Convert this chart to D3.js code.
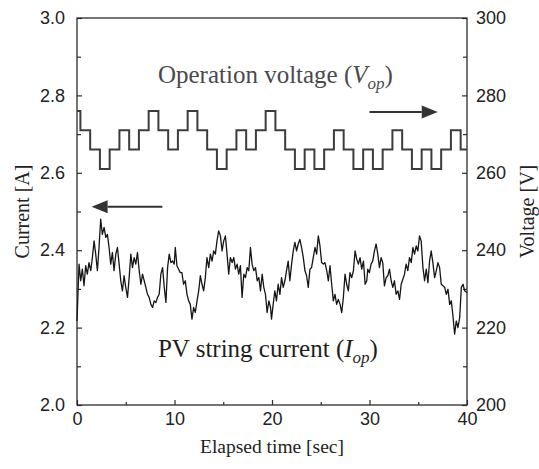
<!DOCTYPE html>
<html>
<head>
<meta charset="utf-8">
<script src="https://cdn.jsdelivr.net/npm/d3@7"></script>
<style>
  html, body { margin: 0; padding: 0; background: #fff; }
  svg { display: block; }
</style>
</head>
<body>
<svg id="chart" width="539" height="469"></svg>
<script>
// Axis tick values and labels
const timeTicks = [0, 10, 20, 30, 40];
const timeMinorTicks = [5, 15, 25, 35];
const currentTicks = [2.0, 2.2, 2.4, 2.6, 2.8, 3.0];
const currentMinorTicks = [2.1, 2.3, 2.5, 2.7, 2.9];
const voltageTicks = [200, 220, 240, 260, 280, 300];
const voltageMinorTicks = [210, 230, 250, 270, 290];

// Operation voltage: set-point changes every second (step times in s, levels in V)
const voltageStepTimes = [0, 0.35, 1.35, 2.35, 3.35, 4.35, 5.35, 6.35, 7.35, 8.35, 9.35,
  10.35, 11.35, 12.35, 13.35, 14.35, 15.35, 16.35, 17.35, 18.35, 19.35,
  20.35, 21.35, 22.35, 23.35, 24.35, 25.35, 26.35, 27.35, 28.35, 29.35,
  30.35, 31.35, 32.35, 33.35, 34.35, 35.35, 36.35, 37.35, 38.35, 39.35, 40];
const voltageLevels = [276, 271, 266, 261, 266, 271, 266, 271, 276, 271, 266,
  271, 276, 271, 266, 261, 266, 271, 266, 271, 276,
  271, 266, 261, 266, 261, 266, 271, 266, 261, 266,
  261, 266, 271, 266, 261, 266, 261, 266, 271, 266, 266];

// PV string current samples (s, A)
const currentTimes = [0.00, 0.21, 0.38, 0.55, 0.72, 0.89, 1.06, 1.23, 1.41, 1.58, 1.75, 1.92,
  2.09, 2.26, 2.43, 2.60, 2.78, 2.95, 3.12, 3.29, 3.46, 3.63, 3.80, 3.98,
  4.15, 4.32, 4.49, 4.66, 4.83, 5.00, 5.18, 5.35, 5.52, 5.69, 5.86, 6.03,
  6.20, 6.38, 6.55, 6.72, 6.89, 7.06, 7.23, 7.40, 7.58, 7.75, 7.92, 8.09,
  8.26, 8.43, 8.60, 8.78, 8.95, 9.12, 9.29, 9.46, 9.63, 9.80, 9.97,
  10.08, 10.25, 10.42, 10.59, 10.76, 10.93, 11.11, 11.28, 11.45, 11.62, 11.79, 11.96,
  12.13, 12.31, 12.48, 12.65, 12.82, 12.99, 13.16, 13.33, 13.51, 13.68, 13.85, 14.02,
  14.19, 14.36, 14.53, 14.71, 14.88, 15.05, 15.22, 15.39, 15.56, 15.73, 15.91, 16.08,
  16.25, 16.42, 16.59, 16.76, 16.93, 17.11, 17.28, 17.45, 17.62, 17.79, 17.96, 18.13,
  18.31, 18.48, 18.65, 18.82, 18.99, 19.16, 19.33, 19.50, 19.68, 19.85,
  19.95, 20.12, 20.29, 20.46, 20.63, 20.81, 20.98, 21.15, 21.32, 21.49, 21.66, 21.83,
  22.01, 22.18, 22.35, 22.52, 22.69, 22.86, 23.03, 23.21, 23.38, 23.55, 23.72, 23.89,
  24.06, 24.23, 24.41, 24.58, 24.75, 24.92, 25.09, 25.26, 25.43, 25.61, 25.78, 25.95,
  26.12, 26.29, 26.46, 26.63, 26.80, 26.98, 27.15, 27.32, 27.49, 27.66, 27.83, 28.00,
  28.18, 28.35, 28.52, 28.69, 28.86, 29.03, 29.20, 29.38, 29.55, 29.72,
  29.82, 29.99, 30.16, 30.33, 30.51, 30.68, 30.85, 31.02, 31.19, 31.36, 31.53, 31.71,
  31.88, 32.05, 32.22, 32.39, 32.56, 32.73, 32.91, 33.08, 33.25, 33.42, 33.59, 33.76,
  33.93, 34.10, 34.28, 34.45, 34.62, 34.79, 34.96, 35.13, 35.30, 35.48, 35.65, 35.82,
  35.99, 36.16, 36.33, 36.50, 36.68, 36.85, 37.02, 37.19, 37.36, 37.53, 37.71, 37.88,
  38.05, 38.22, 38.39, 38.56, 38.73, 38.90, 39.07, 39.25, 39.42, 39.59, 39.76, 40.00];
const currentValues = [2.217, 2.364, 2.321, 2.351, 2.308, 2.360, 2.338, 2.368, 2.347, 2.381, 2.424, 2.390,
  2.347, 2.407, 2.480, 2.441, 2.459, 2.433, 2.441, 2.407, 2.364, 2.394, 2.347, 2.390,
  2.407, 2.364, 2.321, 2.295, 2.334, 2.304, 2.278, 2.329, 2.390, 2.355, 2.381, 2.364,
  2.394, 2.347, 2.312, 2.338, 2.321, 2.304, 2.286, 2.278, 2.260, 2.252, 2.269, 2.265,
  2.278, 2.286, 2.338, 2.355, 2.304, 2.265, 2.355, 2.390, 2.368, 2.372, 2.364,
  2.407, 2.360, 2.351, 2.342, 2.342, 2.312, 2.321, 2.286, 2.269, 2.260, 2.222, 2.252,
  2.239, 2.269, 2.295, 2.334, 2.312, 2.295, 2.329, 2.381, 2.355, 2.390, 2.372, 2.398,
  2.390, 2.424, 2.450, 2.437, 2.398, 2.424, 2.437, 2.390, 2.338, 2.381, 2.368, 2.381,
  2.351, 2.364, 2.338, 2.360, 2.278, 2.338, 2.329, 2.355, 2.347, 2.407, 2.364, 2.347,
  2.355, 2.321, 2.329, 2.295, 2.338, 2.304, 2.286, 2.239, 2.269, 2.252,
  2.222, 2.260, 2.295, 2.269, 2.312, 2.286, 2.329, 2.304, 2.321, 2.347, 2.372, 2.321,
  2.364, 2.398, 2.420, 2.398, 2.416, 2.428, 2.407, 2.381, 2.347, 2.334, 2.304, 2.351,
  2.355, 2.381, 2.407, 2.390, 2.437, 2.411, 2.368, 2.364, 2.368, 2.347, 2.321, 2.360,
  2.312, 2.269, 2.286, 2.260, 2.273, 2.260, 2.239, 2.278, 2.338, 2.312, 2.295, 2.342,
  2.329, 2.347, 2.398, 2.377, 2.364, 2.381, 2.351, 2.372, 2.312, 2.321,
  2.351, 2.342, 2.364, 2.372, 2.398, 2.416, 2.390, 2.355, 2.381, 2.368, 2.308, 2.329,
  2.334, 2.351, 2.321, 2.304, 2.321, 2.286, 2.295, 2.273, 2.312, 2.325, 2.338, 2.364,
  2.347, 2.381, 2.368, 2.407, 2.390, 2.411, 2.398, 2.437, 2.424, 2.355, 2.321, 2.351,
  2.316, 2.372, 2.398, 2.368, 2.329, 2.347, 2.368, 2.355, 2.312, 2.308, 2.304, 2.286,
  2.299, 2.260, 2.269, 2.230, 2.183, 2.217, 2.200, 2.226, 2.304, 2.312, 2.295, 2.290];

const W = 539, H = 469;
const margin = { top: 18, right: 72, bottom: 64, left: 77 };
const svg = d3.select("#chart");

const x = d3.scaleLinear().domain([0, 40]).range([margin.left, W - margin.right]);
const yI = d3.scaleLinear().domain([2, 3]).range([H - margin.bottom, margin.top]);
const yV = d3.scaleLinear().domain([200, 300]).range([H - margin.bottom, margin.top]);

const axisColor = "#2b2b2b";
const sansFont = "'Liberation Sans', Arial, sans-serif";
const serifFont = "'Liberation Serif', 'Times New Roman', serif";

// Frame
svg.append("rect")
  .attr("x", margin.left).attr("y", margin.top)
  .attr("width", W - margin.left - margin.right)
  .attr("height", H - margin.top - margin.bottom)
  .attr("fill", "none").attr("stroke", axisColor).attr("stroke-width", 1.3);

function styleAxis(g) {
  g.select(".domain").remove();
  g.selectAll(".tick line").attr("stroke", axisColor).attr("stroke-width", 1.2);
  g.selectAll(".tick text").attr("fill", "#222").attr("font-family", sansFont).attr("font-size", 18);
}

// Bottom axis (ticks point inward)
svg.append("g").attr("transform", `translate(0,${H - margin.bottom})`)
  .call(d3.axisBottom(x).tickValues(timeTicks).tickFormat(d3.format("d")).tickSizeInner(-5).tickSizeOuter(0).tickPadding(7))
  .call(styleAxis);
svg.append("g").attr("transform", `translate(0,${H - margin.bottom})`)
  .call(d3.axisBottom(x).tickValues(timeMinorTicks).tickFormat("").tickSizeInner(-3).tickSizeOuter(0))
  .call(styleAxis);

// Left axis: current
svg.append("g").attr("transform", `translate(${margin.left},0)`)
  .call(d3.axisLeft(yI).tickValues(currentTicks).tickFormat(d3.format(".1f")).tickSizeInner(-5).tickSizeOuter(0).tickPadding(12))
  .call(styleAxis);
svg.append("g").attr("transform", `translate(${margin.left},0)`)
  .call(d3.axisLeft(yI).tickValues(currentMinorTicks).tickFormat("").tickSizeInner(-4).tickSizeOuter(0))
  .call(styleAxis);

// Right axis: voltage
svg.append("g").attr("transform", `translate(${W - margin.right},0)`)
  .call(d3.axisRight(yV).tickValues(voltageTicks).tickFormat(d3.format("d")).tickSizeInner(-5).tickSizeOuter(0).tickPadding(9))
  .call(styleAxis);
svg.append("g").attr("transform", `translate(${W - margin.right},0)`)
  .call(d3.axisRight(yV).tickValues(voltageMinorTicks).tickFormat("").tickSizeInner(-4).tickSizeOuter(0))
  .call(styleAxis);

// Axis titles
svg.append("text")
  .attr("x", (margin.left + W - margin.right) / 2).attr("y", 453)
  .attr("text-anchor", "middle").attr("font-family", serifFont).attr("font-size", 19.5).attr("fill", "#222")
  .text("Elapsed time [sec]");
svg.append("text")
  .attr("transform", `translate(29,${(margin.top + H - margin.bottom) / 2}) rotate(-90)`)
  .attr("text-anchor", "middle").attr("font-family", serifFont).attr("font-size", 20).attr("fill", "#222")
  .text("Current [A]");
svg.append("text")
  .attr("transform", `translate(534,${(margin.top + H - margin.bottom) / 2}) rotate(-90)`)
  .attr("text-anchor", "middle").attr("font-family", serifFont).attr("font-size", 20).attr("fill", "#222")
  .text("Voltage [V]");

// Voltage trace
const voltageData = voltageStepTimes.map((t, i) => ({ t, v: voltageLevels[i] }));
svg.append("path")
  .datum(voltageData)
  .attr("fill", "none").attr("stroke", "#3c3c3c").attr("stroke-width", 2).attr("stroke-linejoin", "miter")
  .attr("d", d3.line().x(d => x(d.t)).y(d => yV(d.v)).curve(d3.curveStepAfter));

// Current trace
const currentData = currentTimes.map((t, i) => ({ t, a: currentValues[i] }));
svg.append("path")
  .datum(currentData)
  .attr("fill", "none").attr("stroke", "#151515").attr("stroke-width", 1.3).attr("stroke-linejoin", "round")
  .attr("d", d3.line().x(d => x(d.t)).y(d => yI(d.a)));

// Series annotations
const opLabel = svg.append("text")
  .attr("x", x(8.3)).attr("y", yV(283.3))
  .attr("font-family", serifFont).attr("font-size", 25).attr("fill", "#4a4a4a");
opLabel.append("tspan").text("Operation voltage (");
opLabel.append("tspan").attr("font-style", "italic").text("V");
opLabel.append("tspan").attr("font-style", "italic").attr("font-size", 17).attr("dy", 6).text("op");
opLabel.append("tspan").attr("dy", -6).text(")");

const pvLabel = svg.append("text")
  .attr("x", x(8.3)).attr("y", yI(2.124))
  .attr("font-family", serifFont).attr("font-size", 25).attr("fill", "#1e1e1e");
pvLabel.append("tspan").text("PV string current (");
pvLabel.append("tspan").attr("font-style", "italic").text("I");
pvLabel.append("tspan").attr("font-style", "italic").attr("font-size", 17).attr("dy", 6).text("op");
pvLabel.append("tspan").attr("dy", -6).text(")");

// Axis-pointing arrows
function arrow(x1, y1, x2, y2) {
  const dir = Math.sign(x2 - x1);
  const headLen = 16, headHalf = 6.5;
  svg.append("line")
    .attr("x1", x1).attr("y1", y1).attr("x2", x2 - dir * headLen).attr("y2", y2)
    .attr("stroke", "#333").attr("stroke-width", 2);
  svg.append("path")
    .attr("d", `M${x2},${y2} L${x2 - dir * headLen},${y2 - headHalf} L${x2 - dir * headLen},${y2 + headHalf} Z`)
    .attr("fill", "#333");
}
arrow(x(8.75), yI(2.512), x(1.5), yI(2.512));
arrow(x(30.0), yV(275.7), x(37.0), yV(275.7));
</script>
</body>
</html>
